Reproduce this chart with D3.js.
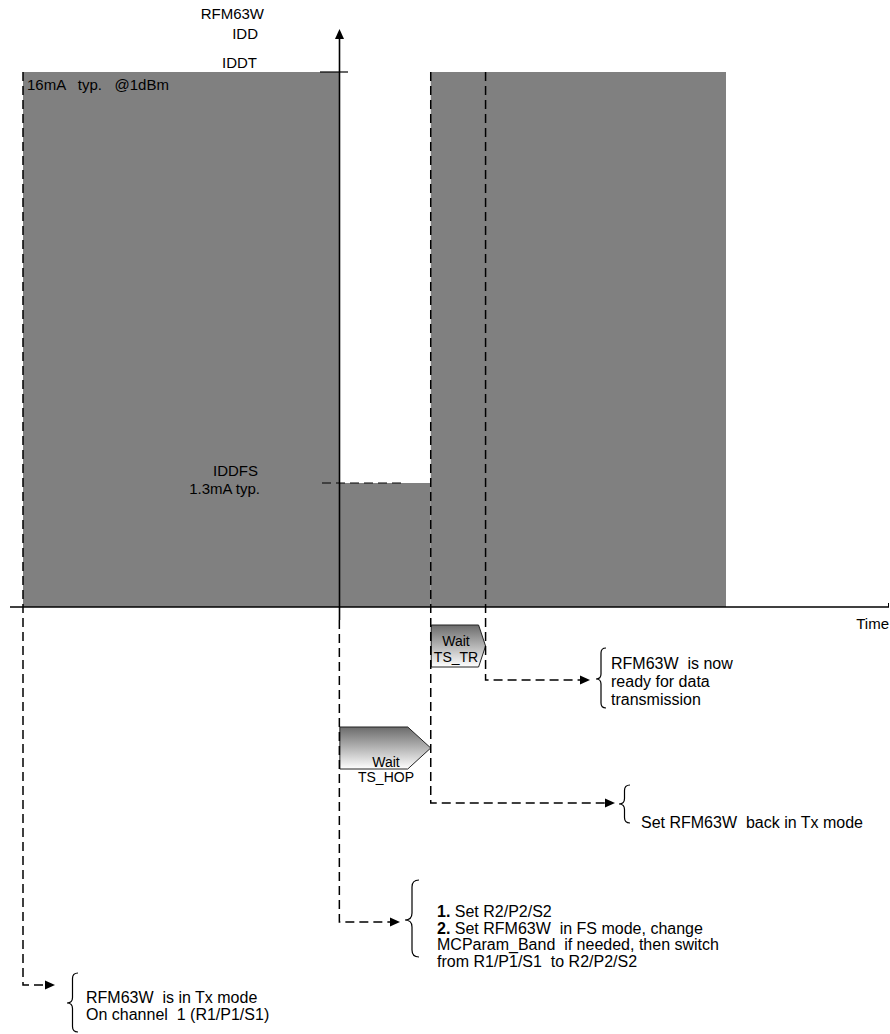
<!DOCTYPE html>
<html>
<head>
<meta charset="utf-8">
<script src="https://cdn.jsdelivr.net/npm/d3@7"></script>
<style>
	body { margin: 0; background: #fff; }
	svg { display: block; font-family: "Liberation Sans", Arial, sans-serif; font-size: 15px; }
	text { white-space: pre; }
	.note { font-size: 16px; }
	.wait { font-size: 14px; }
</style>
</head>
<body>
<div id="chart"></div>
<script>
//current levels in mA
var levelNames = ["IDD0", "IDDFS", "IDDT"];
var levelValues = [0, 1.3, 16];

//current profile over time (arbitrary time units)
var segStart = [0, 45, 58];
var segEnd = [45, 58, 100];
var segLevel = ["IDDT", "IDDFS", "IDDT"];

//wait periods
var waitNames = ["TS_HOP", "TS_TR"];
var waitStart = [45, 58];
var waitEnd = [58, 65.8];

//event annotations
var noteTime = [65.8, 58, 45, 0];
var noteText = [
	["RFM63W  is now", "ready for data", "transmission"],
	["Set RFM63W  back in Tx mode"],
	["1. Set R2/P2/S2", "2. Set RFM63W  in FS mode, change", "MCParam_Band  if needed, then switch", "from R1/P1/S1  to R2/P2/S2"],
	["RFM63W  is in Tx mode", "On channel  1 (R1/P1/S1)"]
];

var width = 890, height = 1034;
var axisY = 607, axisX = 339.5;

var svg = d3.select('#chart').append('svg')
	.attr('width', width)
	.attr('height', height);

//scales
var xScale = d3.scaleLinear()
	.domain([0, 100])
	.range([23, 726]);

var yScale = d3.scaleLinear()
	.domain(levelValues)
	.range([axisY, 483, 72]);

var level = {};
levelNames.forEach(function(n, i) { level[n] = levelValues[i]; });

//gradient for the wait boxes
var grad = svg.append('defs').append('linearGradient')
	.attr('id', 'waitGrad')
	.attr('x1', 0).attr('y1', 0).attr('x2', 0).attr('y2', 1);
grad.append('stop').attr('offset', '0%').attr('stop-color', '#6b6b6b');
grad.append('stop').attr('offset', '100%').attr('stop-color', '#ffffff');

//current blocks
svg.selectAll('.block')
	.data(segStart)
	.enter().append('rect')
	.attr('class', 'block')
	.attr('x', function(d) { return xScale(d); })
	.attr('y', function(d, i) { return yScale(level[segLevel[i]]); })
	.attr('width', function(d, i) { return xScale(segEnd[i]) - xScale(d); })
	.attr('height', function(d, i) { return axisY - yScale(level[segLevel[i]]); })
	.style('fill', '#808080');

//time axis
svg.append('line')
	.attr('x1', 10).attr('x2', 889)
	.attr('y1', axisY).attr('y2', axisY)
	.style('stroke', '#000').style('stroke-width', 1.5);
svg.append('line')
	.attr('x1', 888.5).attr('x2', 888.5)
	.attr('y1', 603).attr('y2', axisY)
	.style('stroke', '#000').style('stroke-width', 1);
svg.append('text')
	.attr('x', 889).attr('y', 629)
	.attr('text-anchor', 'end')
	.text('Time');

//current axis with arrow
svg.append('line')
	.attr('x1', axisX).attr('x2', axisX)
	.attr('y1', 36).attr('y2', 620)
	.style('stroke', '#000').style('stroke-width', 1.6);
svg.append('path')
	.attr('d', 'M' + axisX + ',29L' + (axisX + 4.5) + ',39L' + (axisX - 4.5) + ',39Z')
	.style('fill', '#000');

svg.append('text').attr('x', 264).attr('y', 19).attr('text-anchor', 'end').text('RFM63W');
svg.append('text').attr('x', 258).attr('y', 39).attr('text-anchor', 'end').text('IDD');

//IDDT level
svg.append('line')
	.attr('x1', 320).attr('x2', 348)
	.attr('y1', yScale(level.IDDT)).attr('y2', yScale(level.IDDT))
	.style('stroke', '#000').style('stroke-width', 1.2);
svg.append('text').attr('x', 257).attr('y', yScale(level.IDDT) - 4).attr('text-anchor', 'end').text('IDDT');
svg.append('text').attr('x', 27).attr('y', yScale(level.IDDT) + 18).text('16mA   typ.   @1dBm');

//IDDFS level
svg.append('line')
	.attr('x1', 322).attr('x2', 402)
	.attr('y1', yScale(level.IDDFS)).attr('y2', yScale(level.IDDFS))
	.style('stroke', '#000').style('stroke-width', 1.2)
	.style('stroke-dasharray', '9,5');
svg.append('text').attr('x', 258).attr('y', yScale(level.IDDFS) - 7).attr('text-anchor', 'end').text('IDDFS');
svg.append('text').attr('x', 260).attr('y', yScale(level.IDDFS) + 11).attr('text-anchor', 'end').text('1.3mA typ.');

//wait boxes
var waitLayout = [
	{ top: 727, bot: 769, tipDepth: 23, textX: 386, wait: 767, name: 782 },
	{ top: 625, bot: 667, tipDepth: 7, textX: 456, wait: 646, name: 662 }
];

waitNames.forEach(function(name, i) {
	var L = waitLayout[i];
	var x0 = xScale(waitStart[i]) + 0.5, x1 = xScale(waitEnd[i]);
	var mid = (L.top + L.bot) / 2;
	svg.append('path')
		.attr('d', 'M' + x0 + ',' + L.top + 'L' + (x1 - L.tipDepth) + ',' + L.top + 'L' + x1 + ',' + mid +
			'L' + (x1 - L.tipDepth) + ',' + L.bot + 'L' + x0 + ',' + L.bot + 'Z')
		.style('fill', 'url(#waitGrad)')
		.style('stroke', '#222')
		.style('stroke-width', 1);
	svg.append('text').attr('class', 'wait').attr('x', L.textX).attr('y', L.wait).attr('text-anchor', 'middle').text('Wait');
	svg.append('text').attr('class', 'wait').attr('x', L.textX).attr('y', L.name).attr('text-anchor', 'middle').text(name);
});

//annotation layout
var noteLayout = [
	{ y: 680, tip: 590, braceX: 596, braceW: 10, top: 648, mid: 679, bot: 708, textX: 611, base: 669, lh: 18 },
	{ y: 803, tip: 615, braceX: 619, braceW: 11, top: 785, mid: 804, bot: 823, textX: 641, base: 828, lh: 17 },
	{ y: 922, tip: 400, braceX: 405, braceW: 14, top: 880, mid: 920, bot: 957, textX: 437, base: 917, lh: 16.5 },
	{ y: 985, tip: 55, braceX: 67, braceW: 11, top: 973, mid: 1003, bot: 1032, textX: 86, base: 1003, lh: 17 }
];

function bracePath(x, w, y0, ym, y1) {
	var s = x + w / 2, r = w / 2;
	return 'M' + (x + w) + ',' + y0 + 'Q' + s + ',' + y0 + ' ' + s + ',' + (y0 + r) +
		'L' + s + ',' + (ym - r) + 'Q' + s + ',' + ym + ' ' + x + ',' + ym +
		'Q' + s + ',' + ym + ' ' + s + ',' + (ym + r) +
		'L' + s + ',' + (y1 - r) + 'Q' + s + ',' + y1 + ' ' + (x + w) + ',' + y1;
}

noteTime.forEach(function(t, i) {
	var L = noteLayout[i];
	var x = xScale(t);
	var startY = t === 45 ? 620 : yScale(level.IDDT);

	//dashed leader from the event down to the note
	svg.append('path')
		.attr('d', 'M' + x + ',' + startY + 'V' + L.y + 'H' + (L.tip - 8))
		.style('fill', 'none')
		.style('stroke', '#000')
		.style('stroke-width', 1.5)
		.style('stroke-dasharray', '9,5');
	svg.append('path')
		.attr('d', 'M' + L.tip + ',' + L.y + 'L' + (L.tip - 10) + ',' + (L.y - 4.5) + 'L' + (L.tip - 10) + ',' + (L.y + 4.5) + 'Z')
		.style('fill', '#000');

	svg.append('path')
		.attr('d', bracePath(L.braceX, L.braceW, L.top, L.mid, L.bot))
		.style('fill', 'none')
		.style('stroke', '#000')
		.style('stroke-width', 1.2);

	noteText[i].forEach(function(line, j) {
		var txt = svg.append('text')
			.attr('class', 'note')
			.attr('x', L.textX)
			.attr('y', L.base + j * L.lh);
		var m = line.match(/^(\d+\.)(.*)$/);
		if (m) {
			txt.append('tspan').style('font-weight', 'bold').text(m[1]);
			txt.append('tspan').text(m[2]);
		} else {
			txt.text(line);
		}
	});
});
</script>
</body>
</html>
